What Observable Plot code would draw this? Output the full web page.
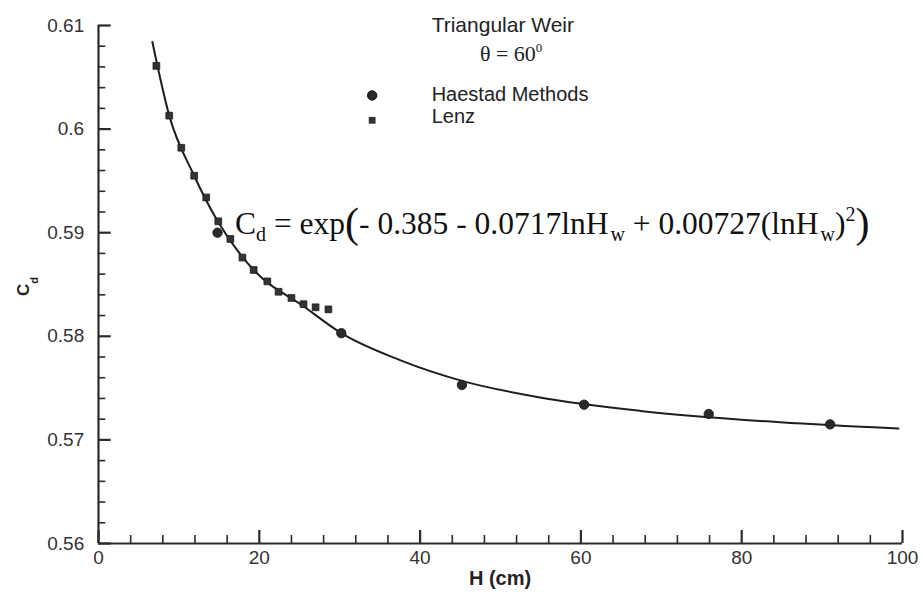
<!DOCTYPE html>
<html>
<head>
<meta charset="utf-8">
<script src="https://cdn.jsdelivr.net/npm/d3@7"></script>
<script src="https://cdn.jsdelivr.net/npm/@observablehq/plot@0.6"></script>
<style>
  html, body { margin: 0; padding: 0; background: #fff; }
  #chart svg { display: block; }
</style>
</head>
<body>
<div id="chart"></div>
<script>
// Discharge coefficient of a 60° triangular weir versus head
const haestadH  = [14.8, 30.2, 45.2, 60.4, 75.9, 91.0];
const haestadCd = [0.5900, 0.5803, 0.5753, 0.5734, 0.5725, 0.5715];

const lenzH  = [7.2, 8.8, 10.3, 11.9, 13.4, 14.9, 16.4, 17.9, 19.3, 21.0, 22.4, 24.0, 25.5, 27.0, 28.6];
const lenzCd = [0.6061, 0.6013, 0.5982, 0.5955, 0.5934, 0.5911, 0.5894, 0.5876, 0.5864, 0.5853, 0.5843, 0.5837, 0.5831, 0.5828, 0.5826];

// fitted curve, sampled along its length
const fitH  = [6.7, 8.8, 11.9, 14.9, 19.3, 25.5, 30.2, 37.5, 45.2, 54.9, 67.4, 84.8, 99.5];
const fitCd = [0.6084, 0.6013, 0.5955, 0.5910, 0.5864, 0.5829, 0.5803, 0.5777, 0.5757, 0.5741, 0.5728, 0.5717, 0.5711];

// axis ticks
const xMajor = [0, 20, 40, 60, 80, 100];
const xMajorLabels = ["0", "20", "40", "60", "80", "100"];
const xMinor = [4, 8, 12, 16, 24, 28, 32, 36, 44, 48, 52, 56, 64, 68, 72, 76, 84, 88, 92, 96];
const yMajor = [0.56, 0.57, 0.58, 0.59, 0.60, 0.61];
const yMajorLabels = ["0.56", "0.57", "0.58", "0.59", "0.6", "0.61"];
const yMinor = [0.562, 0.564, 0.566, 0.568, 0.572, 0.574, 0.576, 0.578, 0.582, 0.584, 0.586, 0.588,
                0.592, 0.594, 0.596, 0.598, 0.602, 0.604, 0.606, 0.608];

const seriesNames = ["Haestad Methods", "Lenz"];

const haestad = haestadH.map((h, i) => ({H: h, Cd: haestadCd[i]}));
const lenz = lenzH.map((h, i) => ({H: h, Cd: lenzCd[i]}));
const fit = fitH.map((h, i) => ({H: h, Cd: fitCd[i]}));

const ink = "#2b2b2b";
const sans = "'Liberation Sans', Arial, Helvetica, sans-serif";
const serif = "'Liberation Serif', 'Times New Roman', serif";

const xLabel = new Map(xMajor.map((d, i) => [d, xMajorLabels[i]]));
const yLabel = new Map(yMajor.map((d, i) => [d, yMajorLabels[i]]));

const chart = Plot.plot({
  width: 923,
  height: 592,
  marginLeft: 98,
  marginRight: 21,
  marginTop: 25,
  marginBottom: 49,
  style: {fontFamily: sans, fontSize: "19px", color: "#333", background: "#fff"},
  x: {domain: [0, 100], label: null},
  y: {domain: [0.56, 0.61], label: null},
  marks: [
    // inward-pointing ticks, labels outside
    Plot.axisY(yMinor, {tickSize: -7.3, tickFormat: () => "", stroke: ink, strokeWidth: 1.6}),
    Plot.axisY(yMajor, {tickSize: -12.7, tickPadding: 27, tickFormat: d => yLabel.get(d), stroke: ink, strokeWidth: 2.2}),
    Plot.axisX(xMinor, {tickSize: -8, tickFormat: () => "", stroke: ink, strokeWidth: 1.6}),
    Plot.axisX(xMajor, {tickSize: -13, tickPadding: 20, tickFormat: d => xLabel.get(d), stroke: ink, strokeWidth: 2.2}),
    Plot.ruleX([0], {stroke: ink, strokeWidth: 2.2}),
    Plot.ruleY([0.56], {stroke: ink, strokeWidth: 2.2}),

    Plot.line(fit, {x: "H", y: "Cd", curve: "monotone-x", stroke: "#1e1e1e", strokeWidth: 2}),
    Plot.dot(lenz, {x: "H", y: "Cd", symbol: "square", r: 3.8, fill: "#333", stroke: "#1a1a1a", strokeWidth: 0.8}),
    Plot.dot(haestad, {x: "H", y: "Cd", symbol: "circle", r: 4.7, fill: "#2a2a2a", stroke: "#111", strokeWidth: 0.8})
  ]
});

document.getElementById("chart").append(chart);

const svg = d3.select(chart);
const sx = chart.scale("x"), sy = chart.scale("y");
const px = h => sx.apply(h), py = c => sy.apply(c);

// title block and legend, anchored in data units
const notes = svg.append("g").attr("fill", "#222").attr("text-anchor", "start");
notes.append("text").attr("x", px(41.5)).attr("y", py(0.60935))
  .attr("font-family", sans).attr("font-size", 21).text("Triangular Weir");

const theta = notes.append("text").attr("x", px(47.5)).attr("y", py(0.6065))
  .attr("font-family", serif).attr("font-size", 22);
theta.append("tspan").text("θ = 60");
theta.append("tspan").attr("font-size", 13).attr("dy", -9).text("0");

notes.append("text").attr("x", px(41.5)).attr("y", py(0.6027))
  .attr("font-family", sans).attr("font-size", 20).text(seriesNames[0]);
notes.append("text").attr("x", px(41.5)).attr("y", py(0.6005))
  .attr("font-family", sans).attr("font-size", 20).text(seriesNames[1]);

notes.append("circle").attr("cx", px(34.1)).attr("cy", py(0.6032)).attr("r", 4.7)
  .attr("fill", "#2a2a2a").attr("stroke", "#111");
notes.append("rect").attr("x", px(34.1) - 3.4).attr("y", py(0.6008) - 3.4)
  .attr("width", 6.8).attr("height", 6.8).attr("fill", "#333");

// fitted equation
const eq = notes.append("text").attr("x", px(17.05)).attr("y", py(0.5898))
  .attr("font-family", serif).attr("font-size", 31.5).attr("fill", "#111")
  .style("white-space", "pre");
const parts = [
  {t: "C"}, {t: "d", sub: true}, {t: " = exp"}, {t: "(", big: true},
  {t: "- 0.385 - 0.0717lnH"}, {t: "w", sub: true}, {t: " + 0.00727(lnH"}, {t: "w", sub: true},
  {t: ")"}, {t: "2", sup: true}, {t: ")", big: true}
];
let shift = 0;
for (const p of parts) {
  const target = p.sub ? 7 : p.sup ? -13 : p.big ? 3 : 0;
  const size = p.sub || p.sup ? 20 : p.big ? 42 : 31.5;
  eq.append("tspan").attr("dy", target - shift).attr("font-size", size)
    .attr("dx", p.sub && p.t === "w" ? 2 : 0).text(p.t);
  shift = target;
}

// axis titles
svg.append("text").attr("x", (px(0) + px(100)) / 2).attr("y", 585)
  .attr("text-anchor", "middle").attr("font-family", sans).attr("font-weight", "bold")
  .attr("font-size", 20).attr("fill", "#222").text("H (cm)");

const yt = svg.append("text").attr("transform", "translate(28.5,296) rotate(-90)")
  .attr("text-anchor", "start")
  .attr("font-family", sans).attr("font-weight", "bold").attr("font-size", 17).attr("fill", "#222");
yt.append("tspan").text("C");
yt.append("tspan").attr("font-size", 11).attr("dy", 9).text("d");
</script>
</body>
</html>
